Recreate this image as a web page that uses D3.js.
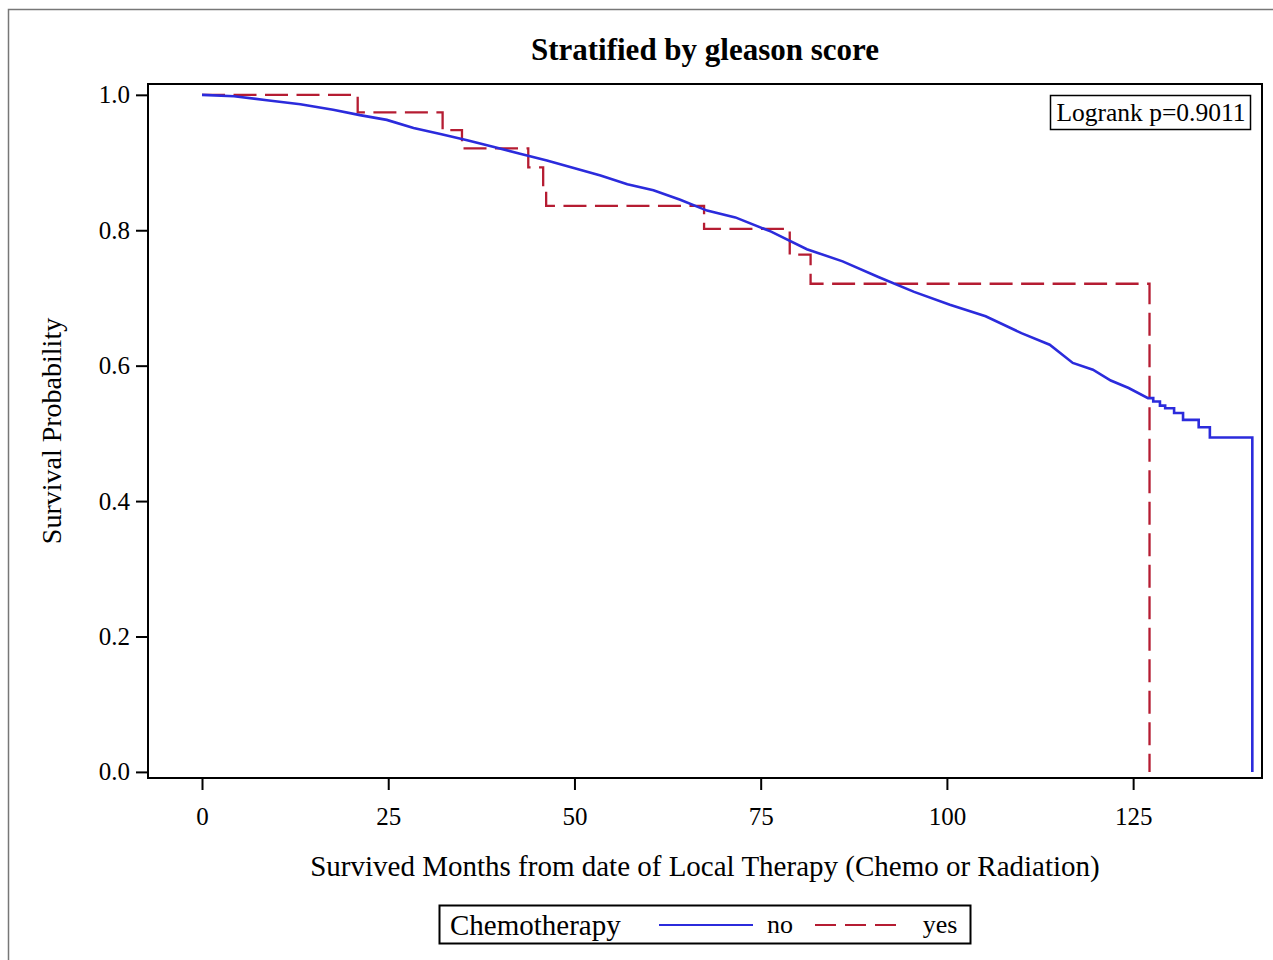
<!DOCTYPE html>
<html>
<head>
<meta charset="utf-8">
<script src="https://cdn.jsdelivr.net/npm/d3@7"></script>
<style>
  body { margin: 0; background: #fff; }
  svg { display: block; font-family: "Liberation Serif", "Times New Roman", serif; }
</style>
</head>
<body>
<svg id="km-svg" width="1273" height="960"></svg>
<script>
// Kaplan-Meier curves (months, survival probability)
const noTime = [0, 4.3, 8.7, 13.2, 17.6, 21.2, 24.8, 28.4, 32.0, 35.6, 39.2, 42.7, 46.3, 49.9,
  53.5, 57.1, 60.6, 64.2, 67.8, 71.6, 76.4, 81.2, 86.0, 90.8, 95.6, 100.4, 105.2, 110.0,
  113.8, 116.9, 119.6, 122.0, 124.4, 127.0];
const noSurv = [1.0, 0.998, 0.992, 0.986, 0.978, 0.970, 0.963, 0.951, 0.942, 0.933, 0.923, 0.913, 0.903, 0.892,
  0.881, 0.868, 0.859, 0.845, 0.829, 0.819, 0.798, 0.772, 0.754, 0.731, 0.709, 0.690, 0.673, 0.648,
  0.631, 0.604, 0.594, 0.578, 0.567, 0.552];
// tail of the "no" curve, where the steps are visible
const noTailTime = [127.0, 127.7, 128.6, 129.3, 130.5, 131.7, 133.8, 135.3, 141.0];
const noTailSurv = [0.552, 0.547, 0.541, 0.537, 0.530, 0.520, 0.509, 0.494, 0.0];

const yesTime = [0, 20.9, 32.3, 34.9, 43.8, 45.8, 46.2, 67.4, 78.9, 81.7, 127.2];
const yesSurv = [1.0, 0.974, 0.948, 0.921, 0.893, 0.864, 0.836, 0.802, 0.764, 0.721, 0.0];

const xTicks = [0, 25, 50, 75, 100, 125];
const yTicks = [0, 0.2, 0.4, 0.6, 0.8, 1.0];

const titleText = "Stratified by gleason score";
const xTitle = "Survived Months from date of Local Therapy (Chemo or Radiation)";
const yTitle = "Survival Probability";
const pText = "Logrank p=0.9011";
const legendTitle = "Chemotherapy";
const groups = ["no", "yes"];

const blue = "#2b2bdc", red = "#b51c32";

const svg = d3.select("#km-svg");

// plot area
const plot = {left: 148, right: 1262, top: 84, bottom: 778};

const x = d3.scaleLinear().domain([-7.25, 142.3]).range([plot.left, plot.right]);
const y = d3.scaleLinear().domain([-0.009, 1.016]).range([plot.bottom, plot.top]);

// outer gray frame
svg.append("rect")
  .attr("x", 8.5).attr("y", 9.5)
  .attr("width", 1300).attr("height", 1000)
  .attr("fill", "none").attr("stroke", "#777").attr("stroke-width", 1.5);

// title
svg.append("text")
  .attr("x", (plot.left + plot.right) / 2)
  .attr("y", 60)
  .attr("text-anchor", "middle")
  .style("font-size", "31px")
  .style("font-weight", "bold")
  .text(titleText);

// axes
const xAxis = d3.axisBottom(x).tickValues(xTicks).tickSize(12).tickPadding(17);
svg.append("g")
  .attr("transform", `translate(0, ${plot.bottom})`)
  .call(xAxis)
  .call(g => g.select(".domain").remove())
  .call(g => g.selectAll("line").attr("stroke", "#000").attr("stroke-width", 2))
  .call(g => g.selectAll("text").attr("fill", "#000").style("font-size", "25px").style("font-family", "Liberation Serif"));

const yAxis = d3.axisLeft(y).tickValues(yTicks).tickFormat(d3.format(".1f")).tickSize(12).tickPadding(6);
svg.append("g")
  .attr("transform", `translate(${plot.left}, 0)`)
  .call(yAxis)
  .call(g => g.select(".domain").remove())
  .call(g => g.selectAll("line").attr("stroke", "#000").attr("stroke-width", 2))
  .call(g => g.selectAll("text").attr("fill", "#000").style("font-size", "25px").style("font-family", "Liberation Serif"));

// axis titles
svg.append("text")
  .attr("x", (plot.left + plot.right) / 2)
  .attr("y", 876)
  .attr("text-anchor", "middle")
  .style("font-size", "29px")
  .text(xTitle);

svg.append("text")
  .attr("transform", `translate(61, ${(plot.top + plot.bottom) / 2}) rotate(-90)`)
  .attr("text-anchor", "middle")
  .style("font-size", "28px")
  .text(yTitle);

// curves
const stepLine = d3.line().x(d => x(d[0])).y(d => y(d[1])).curve(d3.curveStepAfter);
const smoothLine = d3.line().x(d => x(d[0])).y(d => y(d[1]));

const yesData = yesTime.map((t, i) => [t, yesSurv[i]]);
const noData = noTime.map((t, i) => [t, noSurv[i]]);
const noTail = noTailTime.map((t, i) => [t, noTailSurv[i]]);

svg.append("path")
  .attr("d", stepLine(yesData))
  .attr("fill", "none")
  .attr("stroke", red)
  .attr("stroke-width", 2.3)
  .attr("stroke-dasharray", "23,8.5");

svg.append("path")
  .attr("d", smoothLine(noData) + stepLine(noTail).replace(/^M/, "L"))
  .attr("fill", "none")
  .attr("stroke", blue)
  .attr("stroke-width", 2.6);

// plot frame
svg.append("rect")
  .attr("x", plot.left).attr("y", plot.top)
  .attr("width", plot.right - plot.left).attr("height", plot.bottom - plot.top)
  .attr("fill", "none").attr("stroke", "#000").attr("stroke-width", 2);

// logrank inset
svg.append("rect")
  .attr("x", 1050.5).attr("y", 95.5).attr("width", 200).attr("height", 34)
  .attr("fill", "#fff").attr("stroke", "#000").attr("stroke-width", 1.5);
svg.append("text")
  .attr("x", 1151).attr("y", 121)
  .attr("text-anchor", "middle")
  .style("font-size", "25.5px")
  .text(pText);

// legend
const lg = svg.append("g");
lg.append("rect")
  .attr("x", 439.5).attr("y", 905.5).attr("width", 531).attr("height", 38)
  .attr("fill", "#fff").attr("stroke", "#000").attr("stroke-width", 2);
lg.append("text")
  .attr("x", 450).attr("y", 935)
  .style("font-size", "29px")
  .text(legendTitle);

const legendItems = [
  {name: groups[0], color: blue, dash: null, x0: 659, x1: 753, tx: 780},
  {name: groups[1], color: red, dash: "21,9", x0: 815, x1: 903, tx: 940}
];
legendItems.forEach(d => {
  lg.append("line")
    .attr("x1", d.x0).attr("x2", d.x1).attr("y1", 925).attr("y2", 925)
    .attr("stroke", d.color).attr("stroke-width", 2)
    .attr("stroke-dasharray", d.dash);
  lg.append("text")
    .attr("x", d.tx).attr("y", 933)
    .attr("text-anchor", "middle")
    .style("font-size", "26px")
    .text(d.name);
});
</script>
</body>
</html>
